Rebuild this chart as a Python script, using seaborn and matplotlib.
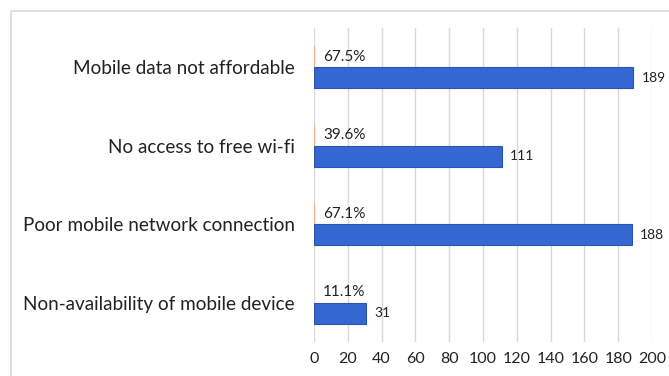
import matplotlib
matplotlib.use("Agg")
import matplotlib.pyplot as plt
from matplotlib.patches import Rectangle
import seaborn as sns
import pandas as pd

categories = [
    "Mobile data not affordable",
    "No access to free wi-fi",
    "Poor mobile network connection",
    "Non-availability of mobile device",
]
counts = [189, 111, 188, 31]
percents = [67.5, 39.6, 67.1, 11.1]
x_ticks = [0, 20, 40, 60, 80, 100, 120, 140, 160, 180, 200]

# Percent series is stored as a fraction so it shares the count axis
df = pd.DataFrame({
    "Reason": categories * 2,
    "Series": ["Percent"] * len(categories) + ["Count"] * len(categories),
    "Value": [p / 100 for p in percents] + counts,
})

sns.set_theme(style="white")
plt.rcParams["font.family"] = ["Lato", "DejaVu Sans"]

fig = plt.figure(figsize=(6.69, 3.76), dpi=100)
ax = fig.add_axes([314 / 669, 1 - 342 / 376, (652 - 314) / 669, (342 - 28) / 376])

sns.barplot(
    data=df, y="Reason", x="Value", hue="Series",
    hue_order=["Percent", "Count"], order=categories,
    palette={"Percent": "#F2A98A", "Count": "#3468D0"},
    saturation=1, width=0.54, orient="h", dodge=True, ax=ax, legend=False,
    edgecolor="none",
)

for patch in ax.containers[1]:
    patch.set_edgecolor("#2A55AE")
    patch.set_linewidth(0.8)

ax.bar_label(ax.containers[0], labels=[f"{p:.1f}%" for p in percents],
             padding=6, fontsize=11, color="#222222")
ax.bar_label(ax.containers[1], labels=[str(c) for c in counts],
             padding=6, fontsize=10, color="#222222")

ax.set_xlim(0, 200)
ax.set_ylim(3.5, -0.5)
ax.set_xticks(x_ticks)
ax.set_xticklabels([str(t) for t in x_ticks])
ax.grid(axis="x", color="#D9D9D9", linewidth=1)
ax.set_axisbelow(True)
for s in ax.spines.values():
    s.set_visible(False)
ax.tick_params(axis="y", length=0, pad=14, labelsize=13.6, labelcolor="#222222")
ax.tick_params(axis="x", length=0, pad=7, labelsize=11.5, labelcolor="#222222")
ax.set_xlabel("")
ax.set_ylabel("")

# chart area frame
fig.patches.append(Rectangle((11 / 669, -0.1), 1.2, 1 - 11 / 376 + 0.1,
                             transform=fig.transFigure, fill=False,
                             edgecolor="#D9D9D9", linewidth=1.2))

fig.savefig("out.png", dpi=100)
